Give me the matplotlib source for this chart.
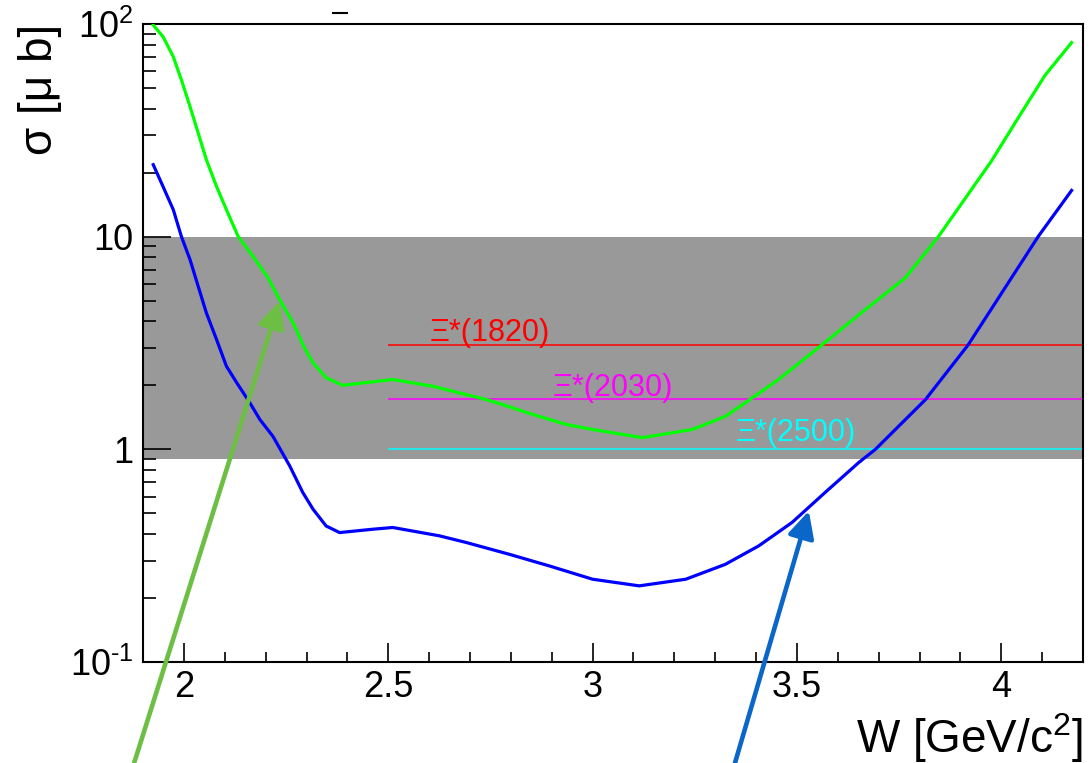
import matplotlib
matplotlib.use("Agg")
import matplotlib.pyplot as plt
from matplotlib.lines import Line2D
from matplotlib.ticker import FixedLocator, MultipleLocator, LogLocator, NullFormatter

plt.rcParams['font.family'] = ['Liberation Sans', 'DejaVu Sans']
plt.rcParams['mathtext.fontset'] = 'custom'
plt.rcParams['mathtext.rm'] = 'Liberation Sans'
plt.rcParams['mathtext.it'] = 'Liberation Sans:italic'

# cross sections vs W (GeV/c^2), microbarn
w_green = [1.925, 1.949, 1.974, 1.994, 2.015, 2.035, 2.055, 2.080, 2.104, 2.133,
           2.169, 2.206, 2.234, 2.267, 2.295, 2.316, 2.348, 2.389, 2.446, 2.511,
           2.609, 2.747, 2.853, 2.935, 3.000, 3.122, 3.244, 3.325, 3.382, 3.455,
           3.561, 3.659, 3.765, 3.846, 3.976, 4.041, 4.107, 4.172]
sigma_green = [98.9, 87.2, 70.2, 54.6, 40.9, 30.7, 23.0, 17.2, 13.4, 10.0,
               8.08, 6.40, 5.06, 3.94, 3.00, 2.55, 2.17, 2.00, 2.06, 2.13,
               1.98, 1.70, 1.46, 1.31, 1.24, 1.135, 1.24, 1.43, 1.70, 2.13,
               3.10, 4.41, 6.40, 10.0, 22.7, 36.1, 57.4, 81.8]

w_blue = [1.925, 1.949, 1.974, 1.994, 2.015, 2.035, 2.055, 2.080, 2.104, 2.129,
          2.161, 2.186, 2.218, 2.259, 2.291, 2.316, 2.348, 2.381, 2.462, 2.511,
          2.625, 2.690, 2.796, 2.894, 3.000, 3.114, 3.228, 3.325, 3.407, 3.488,
          3.569, 3.651, 3.692, 3.814, 3.919, 4.090, 4.172]
sigma_blue = [21.8, 17.2, 13.4, 10.0, 7.80, 5.84, 4.38, 3.28, 2.46, 2.06,
              1.66, 1.38, 1.15, 0.835, 0.626, 0.523, 0.436, 0.406, 0.421, 0.429,
              0.392, 0.365, 0.321, 0.283, 0.245, 0.228, 0.245, 0.288, 0.352, 0.453,
              0.627, 0.866, 1.0, 1.71, 3.10, 10.0, 16.5]

# reachable sensitivity band
band_low, band_high = 0.9, 10.0

# Xi* states: level, label, label anchor (W, sigma)
xi_levels = [3.1, 1.72, 1.0]
xi_labels = ['Ξ*(1820)', 'Ξ*(2030)', 'Ξ*(2500)']
xi_colors = ['#ff0000', '#ff00ff', '#00ffff']
xi_label_pos = [(2.601, 3.23), (2.901, 1.78), (3.350, 1.094)]
xi_start = 2.5

# arrows: (tail, tip) in data coords
arrow_green = ((1.866, 0.0282), (2.234, 4.97))
arrow_blue = ((3.337, 0.0282), (3.529, 0.513))

x_ticks = [2, 2.5, 3, 3.5, 4]
x_ticklabels = ['2', '2.5', '3', '3.5', '4']
y_ticks = [0.1, 1, 10, 100]
y_ticklabels = [r'$10^{\text{-}1}$', '1', '10', '$10^{2}$']

fig = plt.figure(figsize=(10.91, 7.63), dpi=100)
ax = fig.add_axes([0.1311, 0.1324, 0.8616, 0.8361])
ax.set_yscale('log')
ax.set_xlim(1.9, 4.2)
ax.set_ylim(0.1, 100)

ax.axhspan(band_low, band_high, color='#999999', lw=0, zorder=0)

for lvl, lab, col, (tx, ty) in zip(xi_levels, xi_labels, xi_colors, xi_label_pos):
    ax.hlines(lvl, xi_start, 4.2, color=col, lw=1.1, zorder=2)
    ax.text(tx, ty, lab, color=col, fontsize=22, va='baseline', ha='left', zorder=2)

ax.plot(w_green, sigma_green, color='#00ff00', lw=2.3, zorder=3)
ax.plot(w_blue, sigma_blue, color='#0000ff', lw=2.3, zorder=3)

for (tail, tip), col in [(arrow_green, '#6dbf44'), (arrow_blue, '#0a66c8')]:
    ann = ax.annotate('', xy=tip, xytext=tail, annotation_clip=False, zorder=4,
                      arrowprops=dict(arrowstyle='-|>', color=col, lw=3.3,
                                      mutation_scale=40, shrinkA=0, shrinkB=0))
    ann.arrow_patch.set_clip_on(False)

ax.xaxis.set_major_locator(FixedLocator(x_ticks))
ax.set_xticklabels(x_ticklabels)
ax.xaxis.set_minor_locator(MultipleLocator(0.1))
ax.yaxis.set_major_locator(FixedLocator(y_ticks))
ax.set_yticklabels(y_ticklabels)
ax.yaxis.set_minor_locator(LogLocator(base=10, subs=range(2, 10)))
ax.yaxis.set_minor_formatter(NullFormatter())

ax.tick_params(which='both', direction='in', top=False, right=False, width=1.2, labelsize=26)
ax.tick_params(axis='x', which='major', length=13.7, pad=6)
ax.tick_params(axis='x', which='minor', length=7)
ax.tick_params(axis='y', which='major', length=20, pad=7)
ax.tick_params(axis='y', which='minor', length=9.4)
for sp in ax.spines.values():
    sp.set_linewidth(1.5)

ax.text(-0.11, 1.0, 'σ [μ b]', transform=ax.transAxes, rotation=90,
        ha='center', va='top', fontsize=33)
ax.text(1.0, -0.1426, 'W [GeV/c$^{2}$]', transform=ax.transAxes,
        ha='right', va='baseline', fontsize=33)

# leftover stroke of the title above the frame
fig.add_artist(Line2D([333 / 1091, 347 / 1091], [1 - 13 / 763] * 2,
                      transform=fig.transFigure, color='k', lw=1.5))

fig.savefig('out.png', dpi=100)
